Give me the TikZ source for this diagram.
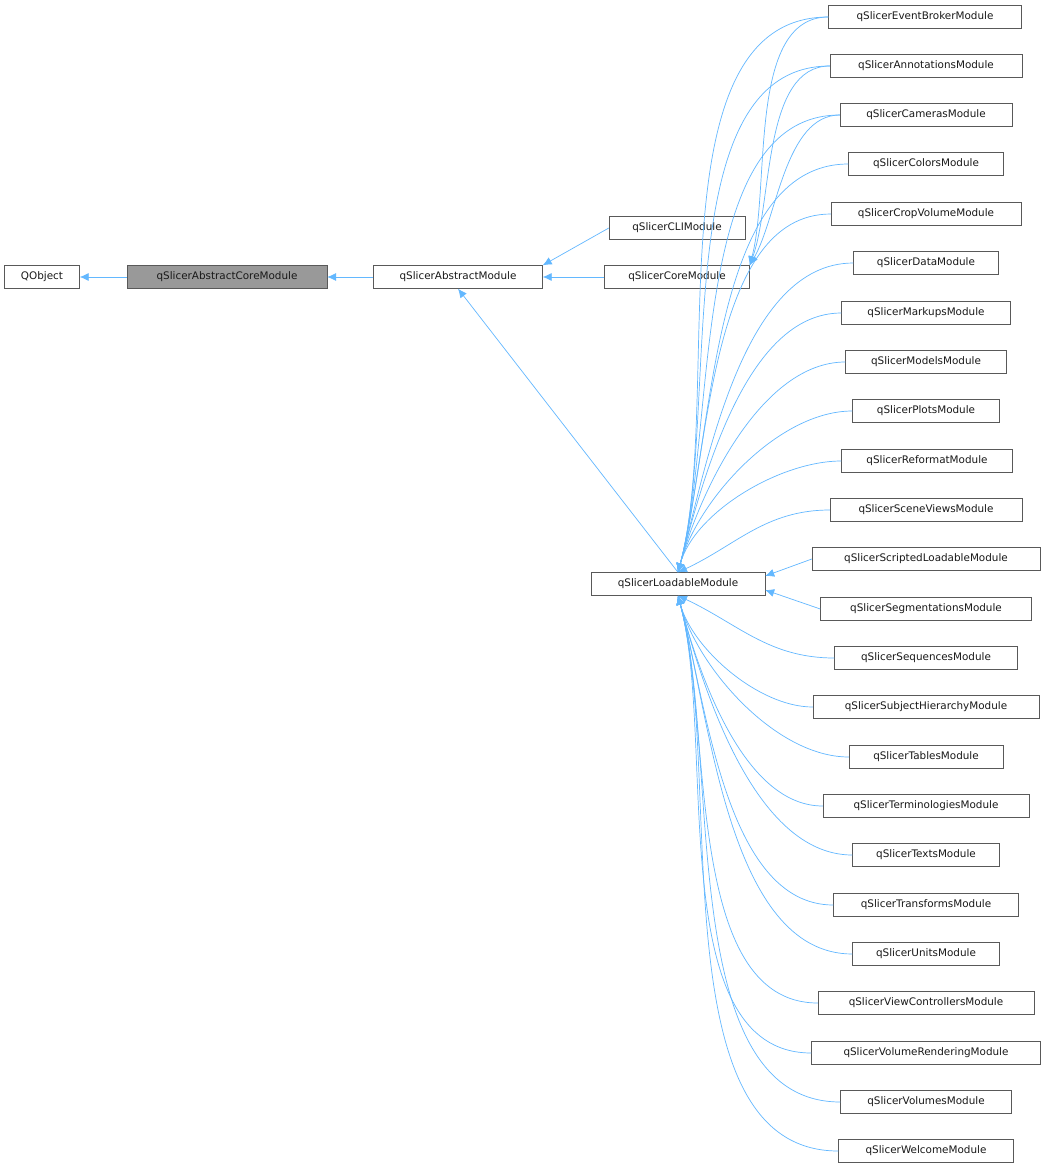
\documentclass[tikz,border=0pt]{standalone}
\usepackage{fontspec}
\setmainfont{DejaVu Sans}
\usetikzlibrary{arrows.meta}
\begin{document}
\begin{tikzpicture}[x=1pt,y=-1pt,
  cls/.style={draw=black!65,fill=white,minimum height=23pt,inner sep=0pt,font=\fontsize{10.4}{12}\selectfont,text=black!90},
  edge/.style={color={rgb,255:red,99;green,184;blue,255},line width=0.7pt,-{Latex[length=9pt,width=8pt]}}]
\useasboundingbox (0,0) rectangle (1047,1171);
\fill[white] (0,0) rectangle (1047,1171);
\newcommand{\cn}[5]{\node[cls,minimum width=#4pt] (#1) at (#2,#3) {#5};}
\cn{qo}{42}{277}{75}{QObject}
\node[cls,minimum width=200pt,fill=black!40] (ac) at (227,277) {qSlicerAbstractCoreModule};
\cn{am}{458}{277}{169}{qSlicerAbstractModule}
\cn{cli}{677}{228}{136}{qSlicerCLIModule}
\cn{core}{677}{277}{145}{qSlicerCoreModule}
\cn{lm}{678}{584}{174}{qSlicerLoadableModule}
\cn{n1}{925}{17}{193}{qSlicerEventBrokerModule}
\cn{n2}{926}{66}{192}{qSlicerAnnotationsModule}
\cn{n3}{926}{115}{172}{qSlicerCamerasModule}
\cn{n4}{926}{164}{155}{qSlicerColorsModule}
\cn{n5}{926}{214}{190}{qSlicerCropVolumeModule}
\cn{n6}{926}{263}{145}{qSlicerDataModule}
\cn{n7}{926}{313}{169}{qSlicerMarkupsModule}
\cn{n8}{926}{362}{161}{qSlicerModelsModule}
\cn{n9}{926}{411}{147}{qSlicerPlotsModule}
\cn{n10}{927}{461}{171}{qSlicerReformatModule}
\cn{n11}{926}{510}{192}{qSlicerSceneViewsModule}
\cn{n12}{926}{559}{228}{qSlicerScriptedLoadableModule}
\cn{n13}{926}{609}{211}{qSlicerSegmentationsModule}
\cn{n14}{926}{658}{183}{qSlicerSequencesModule}
\cn{n15}{926}{707}{226}{qSlicerSubjectHierarchyModule}
\cn{n16}{926}{757}{154}{qSlicerTablesModule}
\cn{n17}{926}{806}{206}{qSlicerTerminologiesModule}
\cn{n18}{926}{855}{147}{qSlicerTextsModule}
\cn{n19}{926}{905}{185}{qSlicerTransformsModule}
\cn{n20}{926}{954}{147}{qSlicerUnitsModule}
\cn{n21}{926}{1003}{216}{qSlicerViewControllersModule}
\cn{n22}{926}{1053}{229}{qSlicerVolumeRenderingModule}
\cn{n23}{926}{1102}{171}{qSlicerVolumesModule}
\cn{n24}{926}{1151}{175}{qSlicerWelcomeModule}
\draw[edge] (ac) -- (qo);
\draw[edge] (am) -- (ac);
\draw[edge] (core) -- (am);
\draw[edge] (cli.west) -- (am.north east);
\draw[edge] (lm.north) -- (am.south);
\draw[edge] (n1.west) to[out=180,in=75,looseness=0.8] (core.north east);
\draw[edge] (n2.west) to[out=180,in=70,looseness=0.8] (core.north east);
\draw[edge] (n3.west) to[out=180,in=60,looseness=0.8] (core.north east);
\foreach \i in {1,...,10} {\draw[edge] (n\i.west) to[out=180,in=75,looseness=0.8] (lm.north);}
\draw[edge] (n11.west) to[out=180,in=25] (lm.north);
\draw[edge] (n12.west) -- ([yshift=8pt]lm.east);
\draw[edge] (n13.west) -- ([yshift=-6pt]lm.east);
\draw[edge] (n14.west) to[out=180,in=-25] (lm.south);
\foreach \i in {15,...,24} {\draw[edge] (n\i.west) to[out=180,in=-75,looseness=0.8] (lm.south);}
\end{tikzpicture}
\end{document}
